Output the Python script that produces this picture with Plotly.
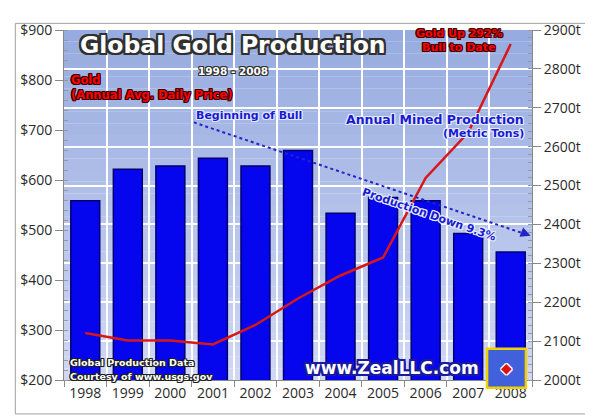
import plotly.graph_objects as go

years = ["1998", "1999", "2000", "2001", "2002", "2003",
         "2004", "2005", "2006", "2007", "2008"]
production_t = [2461, 2542, 2550, 2570, 2550, 2590,
                2429, 2469, 2461, 2377, 2329]
gold_price = [294, 279, 279, 271, 310, 363, 409, 445, 604, 695, 872]

usd_ticks = [200, 300, 400, 500, 600, 700, 800, 900]
ton_ticks = [2000, 2100, 2200, 2300, 2400, 2500, 2600, 2700, 2800, 2900]

BOLD = "DejaVu Sans"
TICKF = dict(family="Open Sans", size=14, color="#2a2a2a")


def outline(c, w=1):
    return ", ".join(f"{dx}px {dy}px 0 {c}" for dx in (-w, 0, w)
                     for dy in (-w, 0, w) if dx or dy)


fig = go.Figure()
fig.add_trace(go.Bar(x=years, y=production_t, base=0, yaxis="y",
                     marker=dict(color="#0606ee",
                                 line=dict(color="#00006e", width=1.5)),
                     showlegend=False))
fig.add_trace(go.Scatter(x=years, y=gold_price, yaxis="y2", mode="lines",
                         line=dict(color="#d81818", width=2.5),
                         showlegend=False))

# fond en degradé
shapes = []
n = 30
top, bot = (0x96, 0xab, 0xdf), (0xcf, 0xd7, 0xf3)
for i in range(n):
    t = i / (n - 1)
    c = tuple(round(bot[k] + (top[k] - bot[k]) * t) for k in range(3))
    shapes.append(dict(type="rect", xref="paper", yref="paper", layer="below",
                       x0=0, x1=1, y0=i / n, y1=(i + 1) / n,
                       fillcolor="rgb(%d,%d,%d)" % c, line=dict(width=0)))
# cadre
shapes.append(dict(type="rect", xref="paper", yref="paper",
                   x0=-0.104, x1=1.121, y0=-0.097, y1=1.019,
                   line=dict(color="#a0a0a0", width=1)))
# fleche pointillee
shapes.append(dict(type="line", xref="paper", yref="paper",
                   x0=0.2775, y0=0.736, x1=0.99, y1=0.415,
                   line=dict(color="#2424c8", width=2, dash="dot")))
# logo
shapes.append(dict(type="rect", xref="paper", yref="paper",
                   x0=0.904, x1=0.987, y0=-0.022, y1=0.089,
                   fillcolor="#4060dc", line=dict(color="#f2d000", width=2.5)))

# la page ajoute 8px de marge au body: on compense
fig.update_layout(
    width=585, height=410,
    margin=dict(l=54, r=60, t=12, b=38),
    paper_bgcolor="white",
    plot_bgcolor="rgba(0,0,0,0)",
    bargap=0.32,
    shapes=shapes,
    xaxis=dict(type="category", tickson="boundaries", ticks="outside",
               ticklen=6, tickcolor="#888", showline=True, linecolor="#888",
               showgrid=True, gridcolor="white", gridwidth=1.5,
               tickfont=TICKF),
    yaxis=dict(side="right", range=[2000, 2900], tickvals=ton_ticks,
               ticktext=[f"{v}t" for v in ton_ticks], ticks="outside",
               ticklen=8, tickcolor="#888", showline=True, linecolor="#888",
               showgrid=True, gridcolor="white", gridwidth=1.5,
               zeroline=False, tickfont=TICKF,
               minor=dict(dtick=20, ticks="inside", ticklen=4,
                          tickcolor="#999", showgrid=False)),
    yaxis2=dict(side="left", overlaying="y", range=[200, 900],
                tickvals=usd_ticks, ticktext=[f"${v}" for v in usd_ticks],
                ticks="outside", ticklen=8, tickcolor="#888",
                showline=True, linecolor="#888", showgrid=False,
                zeroline=False, tickfont=TICKF,
                minor=dict(dtick=20, ticks="inside", ticklen=4,
                           tickcolor="#999")),
)


def note(text, x, y, size, color, shadow, xanchor="center", angle=0):
    fig.add_annotation(text=text, x=x, y=y, xref="paper", yref="paper",
                       xanchor=xanchor, yanchor="middle", showarrow=False,
                       textangle=angle,
                       font=dict(family=BOLD, size=size, color=color,
                                 weight="bold", shadow=shadow))


note("Global Gold Production", 0.361, 0.958, 23.5, "white", outline("#303030", 2))
note("1998 - 2008", 0.361, 0.884, 10.5, "white", outline("#303030"))
note("Gold", 0.0106, 0.856, 11.5, "#ff0000", outline("#3a0000"), "left")
note("(Annual Avg. Daily Price)", 0.0106, 0.814, 11.5, "#ff0000",
     outline("#3a0000"), "left")
note("Beginning of Bull", 0.278, 0.756, 11, "#1a1ad0", outline("#dfe6ff"), "left")
note("Annual Mined Production", 0.987, 0.744, 12.5, "#1a1ad0",
     outline("#e6ecff"), "right")
note("(Metric Tons)", 0.987, 0.703, 11, "#1a1ad0", outline("#e6ecff"), "right")
note("Gold Up 292%", 0.845, 0.989, 11, "#ff0000", outline("#3a0000"))
note("Bull to Date", 0.845, 0.95, 11, "#ff0000", outline("#3a0000"))
note("Production Down 9.3%", 0.78, 0.474, 11, "#1a1ad0", outline("#e6ecff"),
     angle=19)
note("Global Production Data", 0.0085, 0.05, 9.5, "white", outline("#202020"),
     "left")
note("Courtesy of www.usgs.gov", 0.0085, 0.011, 9.5, "white",
     outline("#202020"), "left")
note("www.ZealLLC.com", 0.70, 0.033, 17, "white", outline("#1a1aa0", 2))
note("◆", 0.9455, 0.033, 14, "#e01010", outline("white"))

# pointe de la fleche
fig.add_annotation(x=0.997, y=0.412, xref="paper", yref="paper", text="",
                   showarrow=True, ax=-10, ay=-4, arrowhead=2, arrowsize=1,
                   arrowwidth=2, arrowcolor="#2424c8")

fig.write_html("out.html")
